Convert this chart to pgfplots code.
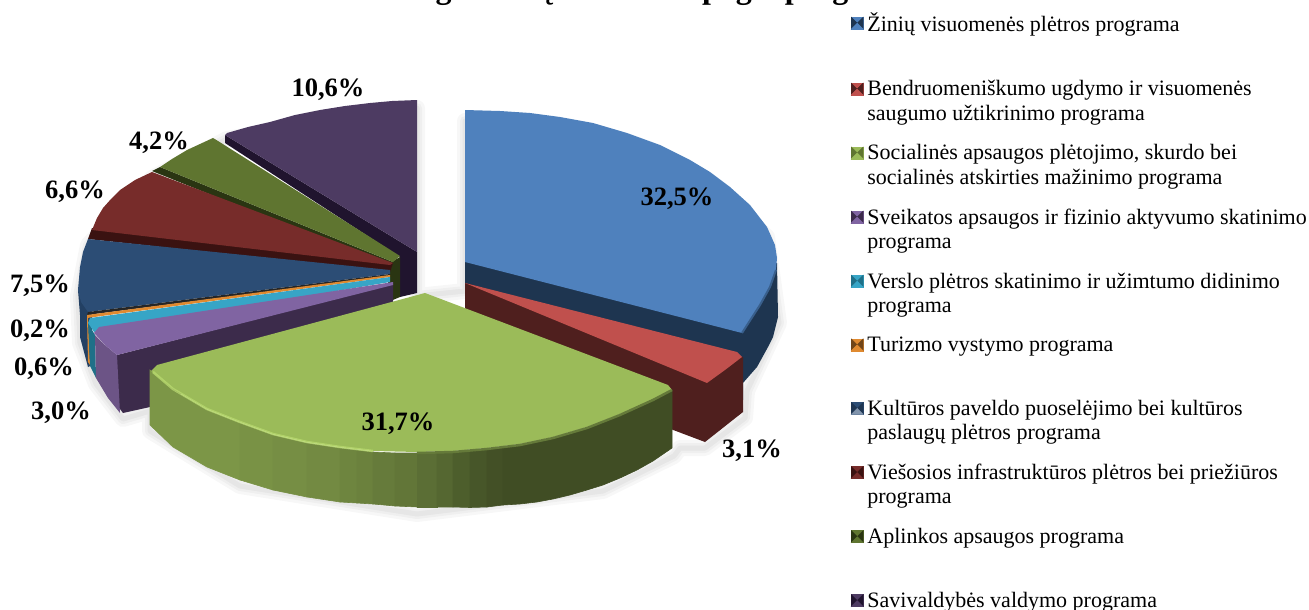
\documentclass[border=0pt]{standalone}
\usepackage{pgfplots}
\pgfplotsset{compat=1.18}
\usepackage{fontspec}
\setmainfont{Liberation Serif}

\definecolor{c1}{HTML}{4F81BD}
\definecolor{c1d}{HTML}{1E3550}
\definecolor{c8}{HTML}{C0504D}
\definecolor{c8d}{HTML}{4F1F1E}
\definecolor{c9}{HTML}{9BBB59}
\definecolor{c9h}{HTML}{B7D86E}
\definecolor{c7}{HTML}{8064A2}
\definecolor{c7s}{HTML}{6C5486}
\definecolor{c7d}{HTML}{3C2B4B}
\definecolor{c5t}{HTML}{37A5C6}
\definecolor{c5d}{HTML}{1F7088}
\definecolor{c6}{HTML}{E08A30}
\definecolor{c2}{HTML}{2C4D75}
\definecolor{c2d}{HTML}{234063}
\definecolor{c3}{HTML}{772C2A}
\definecolor{c3d}{HTML}{3A1211}
\definecolor{c4}{HTML}{5F7530}
\definecolor{c4d}{HTML}{2A3512}
\definecolor{c5b}{HTML}{4D3B62}
\definecolor{c5k}{HTML}{20142E}

\newcommand\poly[2]{\addplot[fill=#1,draw=none,forget plot] coordinates {#2} -- cycle;}
% wall strip of the green slice: no seam between neighbours
\newcommand\wall[2]{\addplot[fill=c9!#1!black,draw=c9!#1!black,line width=0.6pt,forget plot] coordinates {#2} -- cycle;}
\newcommand\softedge[1]{%
  \addplot[draw=black,opacity=0.03,line width=16pt,line join=round,fill=none,forget plot] coordinates {#1} -- cycle;
  \addplot[draw=black,opacity=0.03,line width=10pt,line join=round,fill=none,forget plot] coordinates {#1} -- cycle;
  \addplot[draw=black,opacity=0.04,line width=5pt,line join=round,fill=none,forget plot] coordinates {#1} -- cycle;}
\newcommand\legsq[3]{\addlegendimage{legend image code/.code={
  \fill[#1] (0pt,-6pt) rectangle (12pt,6pt);
  \fill[#2] (0pt,-6pt) -- (6pt,0pt) -- (0pt,6pt) -- cycle;
  \fill[#2] (12pt,-6pt) -- (6pt,0pt) -- (12pt,6pt) -- cycle;
  \fill[#3] (0pt,-6pt) -- (6pt,0pt) -- (12pt,-6pt) -- cycle;}}}
\newcommand\legtxt[1]{\addlegendentry{\parbox[t]{445pt}{\leftskip=4pt #1}}}
\newcommand\lab[3]{\node[font=\fontsize{26.5}{26.5}\selectfont\bfseries, inner sep=0pt] at (axis cs:#1,#2) {#3};}

\begin{document}
\begin{tikzpicture}
\path[use as bounding box] (0,0) rectangle (1309pt,610pt);
\clip (0,0) rectangle (1309pt,610pt);
\begin{axis}[
    at={(0,0)}, anchor=south west,
    scale only axis, width=1309pt, height=610pt,
    xmin=0, xmax=1309, ymin=0, ymax=610, y dir=reverse,
    hide axis, clip=false,
    legend style={at={(axis cs:851,13)}, anchor=north west, draw=none, fill=none,
      font=\fontsize{22}{24.5}\selectfont, inner sep=0pt, outer sep=0pt,
      row sep=47.2pt, nodes={inner sep=0pt, outer sep=0pt}},
    legend cell align=left,
]
% shadows
\softedge{(465,121) (627,143) (710,182) (767,237) (779,323) (747,391) (745,418) (705,448) (680,448) (674,456) (603,491) (417,514) (240,486) (150,431) (150,411) (123,419) (96,384) (80,343) (78,296) (88,245) (152,178) (227,139) (417,108) (417,296) (465,291)}

% Savivaldybes valdymo
\poly{c5k}{(225,135) (225,143) (400,257) (400,297) (417,293) (417,252)}
\poly{c5b}{(417,100) (392,101) (370,103) (345,106) (320,110) (295,115) (270,122) (248,127) (227,133) (225,135) (417,252)}
% Aplinkos apsaugos
\poly{c4d}{(388,264) (400,257) (400,297) (388,302)}
\poly{c4d}{(152,171) (160,167) (393,262) (393,268)}
\poly{c4}{(213,138) (218,141) (400,256) (393,262) (160,167) (172,159) (187,150) (200,144)}
% Viesosios infrastrukturos
\poly{c3d}{(92,228) (88,239) (390,272) (393,263)}
\poly{c3}{(152,172) (135,180) (120,190) (111,199) (103,208) (97,218) (92,230) (390,265) (393,263)}
% Kulturos paveldo
\poly{c2d}{(78,290) (80,315) (80,337) (88,367) (92,365) (92,312)}
\poly{c2}{(88,239) (83,252) (80,267) (78,290) (81,302) (88,312) (390,274) (390,270)}
% Turizmo, Verslo
\poly{black!85}{(88,312) (87,315) (390,276) (390,274)}
\poly{c6}{(87,315) (87,318) (390,277) (390,275)}
\poly{c6}{(87,316) (88,316) (90,365) (88,362)}
\poly{c5d}{(88,322) (92,330) (95,335) (96,378) (90,366)}
\poly{c5t}{(90,318) (88,323) (94,332) (390,282) (390,277)}
% Sveikatos
\poly{c7d}{(393,284) (117,355) (117,405) (123,413) (150,407) (393,302)}
\poly{c7s}{(95,335) (96,378) (108,398) (120,413) (117,355) (105,345)}
\poly{c7}{(393,282) (99,327) (94,333) (105,345) (117,355) (393,285)}

% Ziniu visuomenes
\poly{c1d}{(465,262) (777,263) (778,317) (773,337) (768,347) (757,367) (743,383) (743,400) (465,310)}
\poly{c1}{(465,110) (500,111) (530,113) (560,117) (593,123) (627,133) (660,145) (690,160) (710,172) (730,187) (750,205) (767,227) (775,245) (777,258) (776,270) (770,287) (760,305) (751,319) (742,333) (465,262)}
\addplot[draw=c1!55!c1d,line width=2pt,forget plot] coordinates {(776,270) (770,287) (760,305) (751,319) (742,333)};
% Bendruomeniskumo
\poly{c8d}{(465,283) (743,357) (743,412) (705,442) (660,425) (465,330)}
\poly{c8}{(465,283) (737,352) (742,357) (725,370) (707,383)}

% Socialines apsaugos
\wall{80}{(150,370) (173,390) (207,410) (240,423) (240,480) (207,467) (173,447) (150,425)}
\wall{78}{(240,423) (273,435) (273,490) (240,480)}
\wall{76}{(273,435) (307,443) (307,497) (273,490)}
\wall{74}{(307,443) (340,448) (340,502) (307,497)}
\wall{71}{(340,448) (357,450) (357,503) (340,502)}
\wall{69}{(357,450) (373,452) (373,504) (357,503)}
\wall{66}{(373,452) (395,453) (395,506) (373,504)}
\wall{63}{(395,453) (417,453) (417,507) (395,506)}
\wall{59}{(417,453) (437,453) (437,507) (417,507)}
\wall{55}{(437,453) (453,452) (453,507) (437,507)}
\wall{50}{(453,452) (470,451) (470,507.5) (453,507)}
\wall{46}{(470,451) (487,449) (487,507) (470,507.5)}
\wall{43}{(487,449) (503,447) (503,505) (487,507)}
\wall{41}{(503,447) (520,445) (537,442) (553,438) (570,434) (587,428) (603,422) (620,415) (637,408) (653,400) (672,390) (672,448) (653,461) (637,470) (620,478) (603,485) (587,490) (570,495) (553,499) (537,502) (520,504) (503,505)}
\poly{c9}{(425,293) (668,385) (672,390) (653,399) (620,414) (587,427) (553,437) (520,444) (487,448) (453,451) (417,452) (373,451) (340,447) (307,442) (273,434) (240,422) (207,409) (173,389) (151,371) (157,365)}
\addplot[draw=c9h,line width=2.5pt,opacity=0.8,forget plot] coordinates {(153,372) (173,389) (207,409) (240,422) (273,434) (307,442) (340,447) (373,451)};
\addplot[draw=c9!65!black,line width=2.5pt,forget plot] coordinates {(417,453) (453,452) (487,449) (520,445) (553,438) (587,428) (620,415) (653,400) (672,390)};

% legend
\legsq{c1}{c1d}{c1}
\legsq{c8}{c8d}{c8}
\legsq{c9}{c4}{c9}
\legsq{c7}{c7d}{c7}
\legsq{c5t}{c5d}{c5t}
\legsq{c6}{c6!50!black}{c6}
\legsq{c2}{c2!70!black}{c2!60!white}
\legsq{c3}{c3d}{c3}
\legsq{c4}{c4d}{c4}
\legsq{c5b}{c5k}{c5b}
\legtxt{Žinių visuomenės plėtros programa}
\legtxt{Bendruomeniškumo ugdymo ir visuomenės\\saugumo užtikrinimo programa}
\legtxt{Socialinės apsaugos plėtojimo, skurdo bei\\socialinės atskirties mažinimo programa}
\legtxt{Sveikatos apsaugos ir fizinio aktyvumo skatinimo\\programa}
\legtxt{Verslo plėtros skatinimo ir užimtumo didinimo\\programa}
\legtxt{Turizmo vystymo programa}
\legtxt{Kultūros paveldo puoselėjimo bei kultūros\\paslaugų plėtros programa}
\legtxt{Viešosios infrastruktūros plėtros bei priežiūros\\programa}
\legtxt{Aplinkos apsaugos programa}
\legtxt{Savivaldybės valdymo programa}

% value labels
\lab{677}{199}{32,5\%}
\lab{752}{451}{3,1\%}
\lab{398}{424}{31,7\%}
\lab{61}{413}{3,0\%}
\lab{44}{369}{0,6\%}
\lab{40}{331}{0,2\%}
\lab{40}{286}{7,5\%}
\lab{75}{192}{6,6\%}
\lab{159}{143}{4,2\%}
\lab{328}{90}{10,6\%}
% title, cut off by the top edge
\node[font=\fontsize{32}{32}\selectfont\bfseries, inner sep=0pt, anchor=base west] at (axis cs:398,-1.5) {asignavimų struktūra pagal programas};
\end{axis}
\end{tikzpicture}
\end{document}
